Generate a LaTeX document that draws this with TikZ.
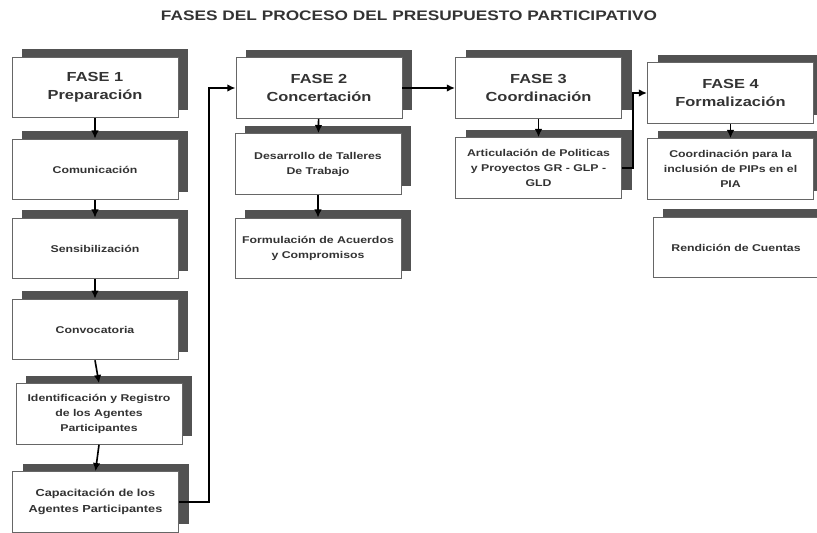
\documentclass[tikz,border=0pt]{standalone}
\usepackage{fontspec}
\setmainfont{Liberation Sans}[FakeStretch=1.25]
\usetikzlibrary{shadows,arrows.meta}
\definecolor{sombra}{gray}{0.32}
\definecolor{texto}{gray}{0.2}
\begin{document}
\begin{tikzpicture}[x=0.03cm,y=-0.03cm,%
                fasebox/.style={draw=gray!80!black,line width=0.8pt,fill=white,
                    minimum width=4.98cm,minimum height=1.82cm,align=center,
                    text=texto,font=\bfseries\fontsize{11.2}{15.3}\selectfont,
                    general shadow={fill=sombra,shadow xshift=8.8pt,shadow yshift=6.8pt}},
                pasobox/.style={fasebox,font=\bfseries\fontsize{8.4}{12.8}\selectfont},
                flecha/.style={line width=1.4pt,-{Latex[length=7pt,width=6.5pt]}}
        ]
            \useasboundingbox (0,0) rectangle (817,532);
            \node [text=texto,font=\bfseries\fontsize{11.8}{13}\selectfont] (titulo) at (409,16)
                    {FASES DEL PROCESO DEL PRESUPUESTO PARTICIPATIVO};
            % fase 1
            \node [fasebox] (fase1) at (95,87.5) {FASE 1\\Preparación};
            \node [pasobox] (comu) at (95,169.5) {Comunicación};
            \node [pasobox] (sens) at (95,248.5) {Sensibilización};
            \node [pasobox] (conv) at (95,329.5) {Convocatoria};
            \node [pasobox] (iden) at (99,414) {Identificación y Registro\\de los Agentes\\Participantes};
            \node [pasobox,font=\bfseries\fontsize{8.7}{13.5}\selectfont] (capa) at (95.5,502)
                    {Capacitación de los\\Agentes Participantes};
            % fase 2
            \node [fasebox] (fase2) at (319,88) {FASE 2\\Concertación};
            \node [pasobox] (desa) at (318,164) {Desarrollo de Talleres\\De Trabajo};
            \node [pasobox] (form) at (318,248.5) {Formulación de Acuerdos\\y Compromisos};
            % fase 3
            \node [fasebox] (fase3) at (538.5,88) {FASE 3\\Coordinación};
            \node [pasobox] (arti) at (538.5,168) {Articulación de Politicas\\y Proyectos GR - GLP -\\GLD};
            % fase 4
            \node [fasebox] (fase4) at (730.5,93) {FASE 4\\Formalización};
            \node [pasobox] (coor) at (730.5,169) {Coordinación para la\\inclusión de PIPs en el\\PIA};
            \node [pasobox] (rend) at (736,247.5) {Rendición de Cuentas};

            \draw [flecha] (fase1) -- (comu);
            \draw [flecha] (comu) -- (sens);
            \draw [flecha] (sens) -- (conv);
            \draw [flecha] (conv.south) -- (iden.north);
            \draw [flecha] (iden.south) -- (capa.north);
            \draw [flecha] (capa.east) -- ++(30,0) |- (fase2.west);
            \draw [flecha] (fase2) -- (desa);
            \draw [flecha] (desa) -- (form);
            \draw [flecha] (fase2) -- (fase3);
            \draw [flecha] (fase3) -- (arti);
            \draw [flecha] (arti.east) -- ++(11,0) |- (fase4.west);
            \draw [flecha] (fase4) -- (coor);
        \end{tikzpicture}
\end{document}
